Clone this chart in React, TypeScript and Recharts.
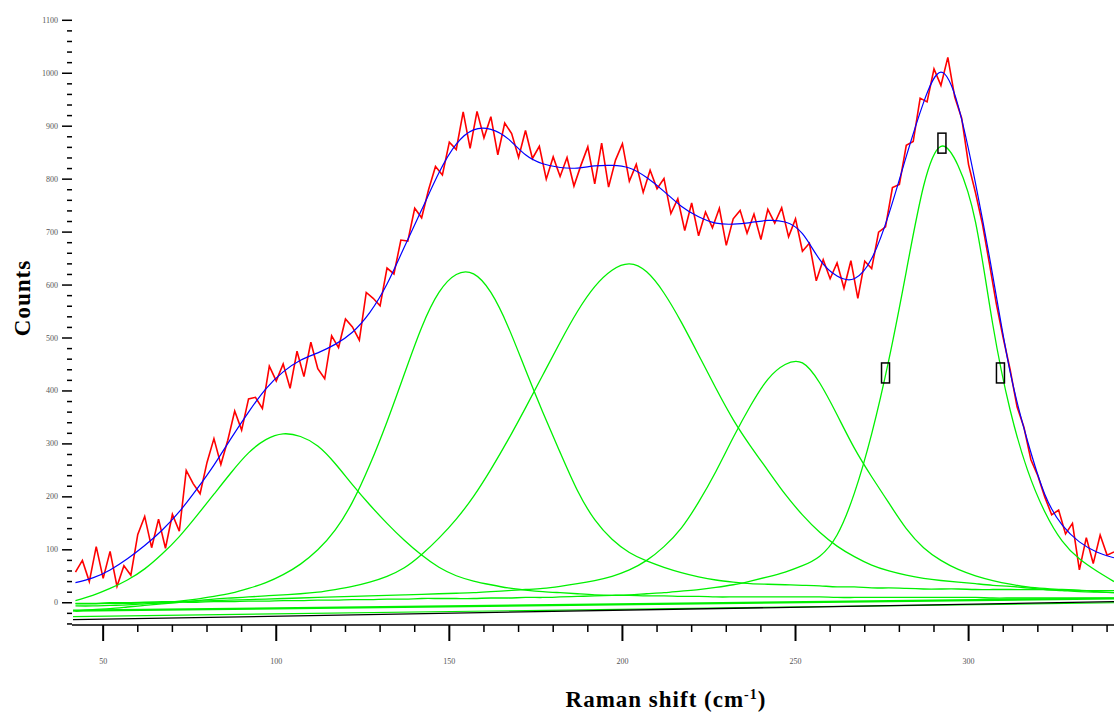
import { ComposedChart, Line, Scatter, XAxis, YAxis } from 'recharts';

// Raman shift grid used by the fitted curves
const FIT_X = [
  42, 47, 52, 57, 62, 67, 72, 77, 82, 87, 92, 97, 102, 107, 112, 117, 122, 127, 132, 137,
  142, 147, 152, 157, 162, 167, 172, 177, 182, 187, 192, 197, 202, 207, 212, 217, 222, 227, 232, 237,
  242, 247, 252, 257, 262, 267, 272, 277, 282, 287, 292, 297, 302, 307, 312, 317, 322, 327, 332, 337, 342,
];

// fitted component peaks (green)
const PEAK_1 = [
  4, 14, 27, 43, 64, 92, 125, 164, 205, 246, 283, 308, 319, 314, 296, 263, 223, 185, 150, 118,
  90, 67, 51, 41, 34, 28, 24, 21, 19, 17, 15, 14, 14, 13, 13, 12, 12, 11, 11, 11,
  11, 11, 11, 11, 10, 10, 10, 10, 10, 10, 10, 10, 10, 9, 9, 9, 9, 9, 9, 9, 9,
];
const PEAK_2 = [
  -6, -6, -5, -4, -2, 0, 3, 7, 12, 18, 27, 38, 53, 73, 100, 137, 190, 260, 342, 432,
  520, 586, 620, 621, 586, 521, 440, 360, 284, 212, 157, 120, 95, 79, 67, 57, 49, 43, 39, 36,
  35, 34, 33, 32, 30, 30, 28, 28, 27, 26, 26, 26, 25, 25, 25, 25, 25, 24, 23, 23, 23,
];
const PEAK_3 = [
  -16, -13, -11, -8, -5, -2, 1, 4, 7, 9, 11, 13, 15, 17, 20, 25, 31, 39, 50, 66,
  91, 122, 158, 201, 252, 308, 368, 430, 492, 550, 597, 628, 640, 625, 585, 530, 468, 405, 346, 296,
  250, 205, 166, 133, 107, 87, 71, 60, 52, 46, 42, 39, 36, 33, 31, 28, 25, 23, 21, 20, 19,
];
const PEAK_4 = [
  -1, -1, 0, 0, 1, 2, 2, 3, 4, 5, 6, 7, 8, 9, 10, 11, 12, 13, 14, 15,
  16, 17, 18, 19, 21, 23, 25, 27, 31, 36, 42, 50, 62, 80, 106, 141, 190, 248, 312, 372,
  422, 450, 453, 415, 355, 292, 238, 188, 140, 104, 80, 63, 51, 42, 35, 30, 27, 25, 24, 21, 19,
];
const PEAK_5 = [
  -2, -2, -1, -1, 0, 0, 1, 1, 2, 2, 3, 3, 4, 4, 5, 5, 6, 6, 7, 7,
  8, 8, 8, 8, 9, 9, 10, 10, 11, 12, 13, 14, 15, 17, 19, 22, 25, 29, 34, 41,
  49, 58, 70, 88, 128, 207, 319, 460, 626, 787, 862, 825, 719, 525, 364, 251, 172, 117, 83, 60, 40,
];
// cumulative fit (blue)
const FIT_TOTAL = [
  38, 47, 62, 83, 108, 137, 172, 214, 260, 311, 360, 404, 436, 458, 472, 488, 511, 548, 602, 672,
  742, 812, 866, 893, 894, 876, 846, 829, 822, 821, 825, 826, 821, 803, 777, 749, 729, 717, 715, 718,
  722, 719, 697, 648, 617, 612, 650, 735, 843, 945, 1002, 938, 792, 617, 436, 306, 205, 147, 115, 96, 85,
];

// measured spectrum (red)
const RAW_X = [
  42, 44, 46, 48, 50, 52, 54, 56, 58, 60, 62, 64, 66, 68, 70, 72, 74, 76, 78, 80,
  82, 84, 86, 88, 90, 92, 94, 96, 98, 100, 102, 104, 106, 108, 110, 112, 114, 116, 118, 120,
  122, 124, 126, 128, 130, 132, 134, 136, 138, 140, 142, 144, 146, 148, 150, 152, 154, 156, 158, 160,
  162, 164, 166, 168, 170, 172, 174, 176, 178, 180, 182, 184, 186, 188, 190, 192, 194, 196, 198, 200,
  202, 204, 206, 208, 210, 212, 214, 216, 218, 220, 222, 224, 226, 228, 230, 232, 234, 236, 238, 240,
  242, 244, 246, 248, 250, 252, 254, 256, 258, 260, 262, 264, 266, 268, 270, 272, 274, 276, 278, 280,
  282, 284, 286, 288, 290, 292, 294, 296, 298, 300, 302, 304, 306, 308, 310, 312, 314, 316, 318, 320,
  322, 324, 326, 328, 330, 332, 334, 336, 338, 340, 342,
];
const RAW_COUNTS = [
  58, 80, 40, 106, 46, 97, 31, 70, 52, 129,
  163, 104, 158, 103, 167, 135, 250, 225, 206, 265,
  310, 261, 307, 362, 326, 385, 388, 367, 447, 419,
  451, 405, 475, 427, 492, 442, 423, 504, 482, 536,
  521, 496, 586, 575, 561, 632, 621, 685, 683, 745,
  727, 780, 824, 808, 870, 856, 927, 858, 928, 878,
  918, 846, 906, 886, 841, 892, 839, 862, 800, 842,
  805, 841, 787, 826, 861, 791, 868, 785, 836, 867,
  796, 828, 775, 817, 782, 801, 735, 763, 703, 755,
  693, 738, 708, 745, 675, 725, 741, 698, 734, 686,
  743, 717, 746, 691, 725, 664, 679, 608, 648, 612,
  642, 594, 646, 575, 645, 631, 700, 710, 784, 790,
  864, 871, 953, 946, 1008, 977, 1030, 955, 915, 827,
  774, 715, 641, 565, 500, 440, 370, 331, 270, 240,
  200, 166, 175, 130, 150, 62, 123, 74, 128, 90,
  96,
];

// straight baselines at the bottom
const BASE_X = [41.3, 342];
const BASE_GREEN_A = [-15, 8];
const BASE_GREEN_B = [-26, 0];
const BASE_BLACK = [-32, 2];

// fit markers on the strongest band
const MARKER_X = [276.0, 292.3, 309.2];
const MARKER_Y = [434, 868, 434];

const X_TICKS = [
  50, 60, 70, 80, 90, 100, 110, 120, 130, 140, 150, 160, 170, 180, 190,
  200, 210, 220, 230, 240, 250, 260, 270, 280, 290, 300, 310, 320, 330, 340,
];
const Y_TICKS = [
  -40, -20, 0, 20, 40, 60, 80, 100, 120, 140, 160, 180, 200, 220, 240, 260, 280, 300, 320, 340,
  360, 380, 400, 420, 440, 460, 480, 500, 520, 540, 560, 580, 600, 620, 640, 660, 680, 700, 720, 740,
  760, 780, 800, 820, 840, 860, 880, 900, 920, 940, 960, 980, 1000, 1020, 1040, 1060, 1080, 1100,
];

const fitData = FIT_X.map((x, i) => ({
  x,
  p1: PEAK_1[i],
  p2: PEAK_2[i],
  p3: PEAK_3[i],
  p4: PEAK_4[i],
  p5: PEAK_5[i],
  total: FIT_TOTAL[i],
}));
const rawData = RAW_X.map((x, i) => ({ x, counts: RAW_COUNTS[i] }));
const baseData = BASE_X.map((x, i) => ({ x, a: BASE_GREEN_A[i], b: BASE_GREEN_B[i], k: BASE_BLACK[i] }));
const markerData = MARKER_X.map((x, i) => ({ x, y: MARKER_Y[i] }));

const GREEN = '#00f000';
const TICK_FONT = { fontSize: 8, fontFamily: 'Liberation Serif', fill: '#555' };

function XTick(props: any) {
  const { x, y, payload } = props;
  const major = payload.value % 50 === 0;
  return (
    <g>
      <line x1={x} x2={x} y1={y} y2={y + (major ? 16 : 7)} stroke="#000" strokeWidth={major ? 2 : 1.5} />
      {major && (
        <text x={x} y={y + 36} textAnchor="middle" dominantBaseline="central" {...TICK_FONT}>
          {payload.value}
        </text>
      )}
    </g>
  );
}

function YTick(props: any) {
  const { x, y, payload } = props;
  const major = payload.value % 100 === 0;
  return (
    <g>
      <line x1={x - (major ? 10 : 5)} x2={x} y1={y} y2={y} stroke="#000" strokeWidth={1.5} />
      {major && (
        <text x={x - 14} y={y} textAnchor="end" dominantBaseline="central" {...TICK_FONT}>
          {payload.value}
        </text>
      )}
    </g>
  );
}

function MarkerBox(props: any) {
  const { cx, cy } = props;
  return <rect x={cx - 4} y={cy - 10} width={8} height={20} fill="none" stroke="#000" strokeWidth={1.5} />;
}

const titleFont = {
  fontFamily: '"Liberation Serif", serif',
  fontWeight: 700,
  fontSize: 23,
  letterSpacing: 1,
  lineHeight: 1,
  whiteSpace: 'nowrap' as const,
  color: '#000',
};

export default function App() {
  return (
    <div style={{ position: 'absolute', left: 0, top: 0, width: 1114, height: 715, background: '#fff' }}>
      <ComposedChart width={1114} height={715} margin={{ top: 15, right: 0, bottom: 0, left: 0 }}>
        <XAxis
          dataKey="x"
          type="number"
          domain={[41, 342]}
          ticks={X_TICKS}
          interval={0}
          tick={<XTick />}
          tickLine={false}
          tickSize={0}
          tickMargin={0}
          height={90}
          axisLine={{ stroke: '#000', strokeWidth: 1.5 }}
        />
        <YAxis
          type="number"
          domain={[-42, 1110]}
          ticks={Y_TICKS}
          interval={0}
          tick={<YTick />}
          tickLine={false}
          tickSize={0}
          tickMargin={0}
          width={72}
          axisLine={false}
        />
        <Line data={rawData} dataKey="counts" type="linear" stroke="#ff0000" strokeWidth={1.6} dot={false} activeDot={false} isAnimationActive={false} />
        <Line data={fitData} dataKey="total" type="natural" stroke="#0000ff" strokeWidth={1.2} dot={false} activeDot={false} isAnimationActive={false} />
        <Line data={fitData} dataKey="p1" type="natural" stroke={GREEN} strokeWidth={1.3} dot={false} activeDot={false} isAnimationActive={false} />
        <Line data={fitData} dataKey="p2" type="natural" stroke={GREEN} strokeWidth={1.3} dot={false} activeDot={false} isAnimationActive={false} />
        <Line data={fitData} dataKey="p3" type="natural" stroke={GREEN} strokeWidth={1.3} dot={false} activeDot={false} isAnimationActive={false} />
        <Line data={fitData} dataKey="p4" type="natural" stroke={GREEN} strokeWidth={1.3} dot={false} activeDot={false} isAnimationActive={false} />
        <Line data={fitData} dataKey="p5" type="natural" stroke={GREEN} strokeWidth={1.3} dot={false} activeDot={false} isAnimationActive={false} />
        <Line data={baseData} dataKey="a" type="linear" stroke={GREEN} strokeWidth={2.2} dot={false} activeDot={false} isAnimationActive={false} />
        <Line data={baseData} dataKey="b" type="linear" stroke={GREEN} strokeWidth={1.2} dot={false} activeDot={false} isAnimationActive={false} />
        <Line data={baseData} dataKey="k" type="linear" stroke="#000" strokeWidth={1.3} dot={false} activeDot={false} isAnimationActive={false} />
        <Scatter data={markerData} dataKey="y" shape={<MarkerBox />} isAnimationActive={false} />
      </ComposedChart>
      <div
        style={{
          ...titleFont,
          position: 'absolute',
          left: 22,
          top: 298,
          transform: 'translate(-50%, -50%) rotate(-90deg)',
        }}
      >
        Counts
      </div>
      <div style={{ ...titleFont, position: 'absolute', left: 666, top: 688, transform: 'translateX(-50%)' }}>
        Raman shift (cm<span style={{ fontSize: 14, position: 'relative', top: -8 }}>-1</span>)
      </div>
    </div>
  );
}
